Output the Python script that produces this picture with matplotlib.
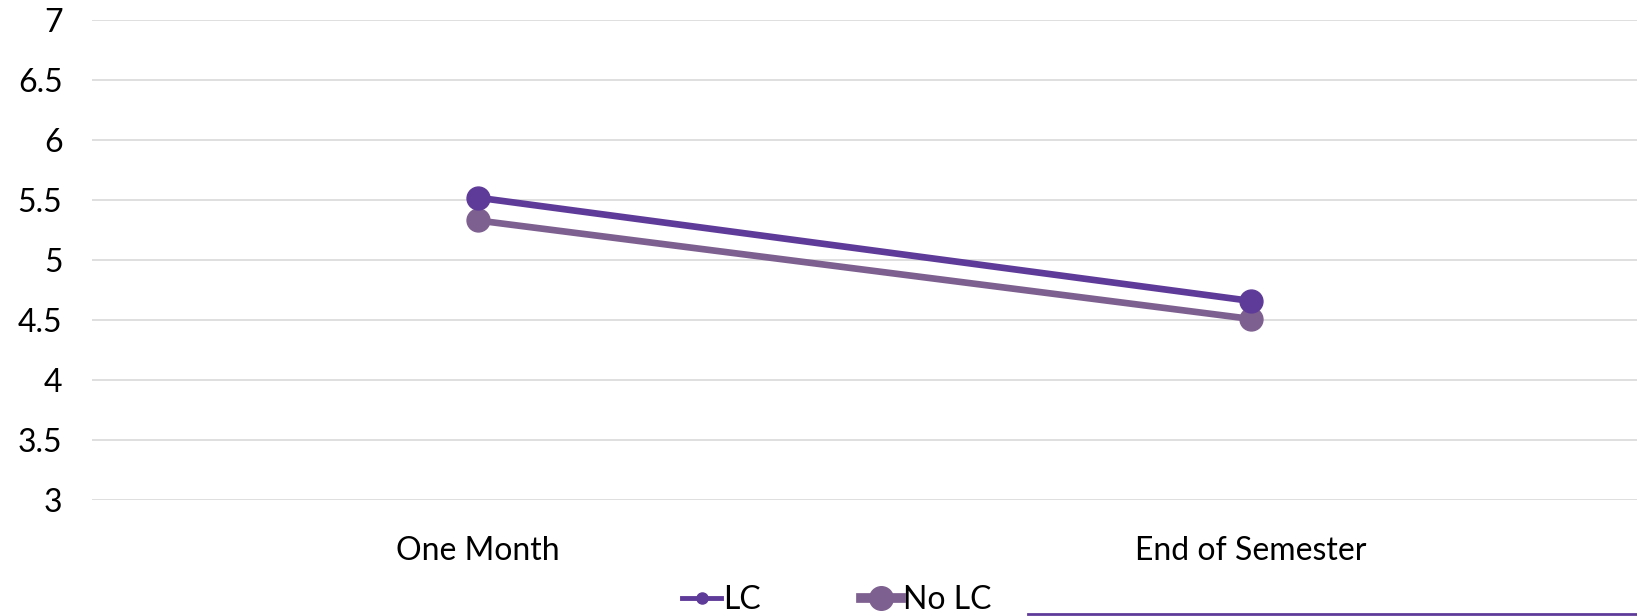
import matplotlib
matplotlib.use('Agg')
import matplotlib.pyplot as plt
from matplotlib.lines import Line2D

# Mean scores at two time points.
categories = ['One Month', 'End of Semester']
lc_values = [5.52, 4.66]
no_lc_values = [5.33, 4.51]
y_ticks = [3, 3.5, 4, 4.5, 5, 5.5, 6, 6.5, 7]
y_tick_labels = ['3', '3.5', '4', '4.5', '5', '5.5', '6', '6.5', '7']

LC_COLOR = '#5f3b99'
NO_LC_COLOR = '#7e6090'

plt.rcParams['font.family'] = ['Lato', 'DejaVu Sans']

fig = plt.figure(figsize=(16.37, 6.16), dpi=100)
ax = fig.add_axes([0.056, 0.188, 0.944, 0.7795])

x = list(range(len(categories)))
ax.plot(x, no_lc_values, color=NO_LC_COLOR, lw=4.8, marker='o', ms=16.5,
        solid_capstyle='round', zorder=3)
ax.plot(x, lc_values, color=LC_COLOR, lw=4.8, marker='o', ms=16.5,
        solid_capstyle='round', zorder=4)

ax.set_xlim(-0.5, 1.5)
ax.set_ylim(3, 7)
ax.set_yticks(y_ticks)
ax.set_yticklabels(y_tick_labels)
ax.set_xticks(x)
ax.set_xticklabels(categories)
ax.tick_params(axis='both', length=0, labelsize=23, colors='black')
ax.tick_params(axis='y', pad=21)
ax.tick_params(axis='x', pad=26)
ax.grid(axis='y', color='#d9d9d9', lw=1.2)
ax.set_axisbelow(True)
for s in ax.spines.values():
    s.set_visible(False)

# Legend: the handles in the reference use different marker sizes.
handles = [
    Line2D([], [], color=LC_COLOR, lw=3.5, marker='o', ms=8),
    Line2D([], [], color=NO_LC_COLOR, lw=7, marker='o', ms=17),
]
fig.legend(handles, ['LC', 'No LC'], loc='center', bbox_to_anchor=(0.511, 0.026),
           ncol=2, frameon=False, fontsize=23, handlelength=1.25,
           handletextpad=0.05, columnspacing=3.15)

# Stray purple rule at the bottom right of the reference image.
fig.add_artist(Line2D([1028 / 1637, 1.0], [0.003, 0.003], color=LC_COLOR,
                      lw=2, transform=fig.transFigure))

fig.savefig('out.png', dpi=100)
